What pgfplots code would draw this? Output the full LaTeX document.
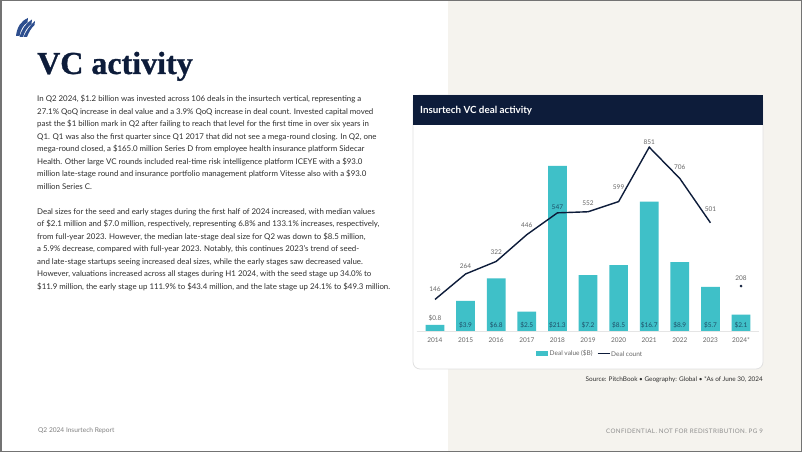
\documentclass[border=0pt]{standalone}
\usepackage{fontspec}
\setmainfont{Lato}
\newfontfamily\titlefont[FakeBold=1]{Liberation Serif}
\usepackage{pgfplots}
\pgfplotsset{compat=1.18}
\pgfkeys{/pgf/number format/assume math mode=true}
\definecolor{navy}{HTML}{0D1C3A}
\definecolor{barteal}{HTML}{3FC0C8}
\definecolor{beige}{HTML}{F5F3EE}
\definecolor{bodygray}{HTML}{2E2E2E}
\definecolor{lblgray}{HTML}{666666}
\definecolor{barlbl}{HTML}{1E4D66}
\definecolor{logoblue}{HTML}{2D4E8E}
\newcommand{\bodyfont}{\fontsize{7.88}{9}\selectfont}
\newcommand{\smallfont}{\fontsize{6.5}{7}\selectfont}
\begin{document}
\begin{tikzpicture}[x=1pt,y=1pt]
\path[use as bounding box] (0,0) rectangle (802,452);
\begin{scope}[y=-1pt, yshift=452pt]
\fill[white] (0,0) rectangle (802,452);
\fill[beige] (448,0) rectangle (802,452);
% logo
\fill[logoblue] (16,36) .. controls (17,27) and (21,21) .. (28,18) -- (27.5,22.5) .. controls (23,25) and (20.5,30) .. (19.5,36) -- cycle;
\fill[logoblue] (19.5,37) .. controls (22,29) and (26,23) .. (32,19.5) -- (31.5,24) .. controls (27,27) and (24.5,32) .. (23,37) -- cycle;
\fill[logoblue] (23.5,37) .. controls (26,31) and (30,25) .. (35,21) -- (34.5,25) .. controls (31,28) and (28.5,33) .. (27,37) -- cycle;
% title
\node[anchor=base west, inner sep=0, text=navy, font=\titlefont\bfseries\fontsize{32}{34}\selectfont] at (37,74) {VC activity};
% body text
\foreach \t [count=\i from 0] in {
{In Q2 2024, \$1.2 billion was invested across 106 deals in the insurtech vertical, representing a},
{27.1\% QoQ increase in deal value and a 3.9\% QoQ increase in deal count. Invested capital moved},
{past the \$1 billion mark in Q2 after failing to reach that level for the first time in over six years in},
{Q1. Q1 was also the first quarter since Q1 2017 that did not see a mega-round closing. In Q2, one},
{mega-round closed, a \$165.0 million Series D from employee health insurance platform Sidecar},
{Health. Other large VC rounds included real-time risk intelligence platform ICEYE with a \$93.0},
{million late-stage round and insurance portfolio management platform Vitesse also with a \$93.0},
{million Series C.}}
{\node[anchor=base west, inner sep=0, text=bodygray, font=\bodyfont] at (37,{102+12.5*\i}) {\t};}
\foreach \t [count=\i from 0] in {
{Deal sizes for the seed and early stages during the first half of 2024 increased, with median values},
{of \$2.1 million and \$7.0 million, respectively, representing 6.8\% and 133.1\% increases, respectively,},
{from full-year 2023. However, the median late-stage deal size for Q2 was down to \$8.5 million,},
{a 5.9\% decrease, compared with full-year 2023. Notably, this continues 2023's trend of seed-},
{and late-stage startups seeing increased deal sizes, while the early stages saw decreased value.},
{However, valuations increased across all stages during H1 2024, with the seed stage up 34.0\% to},
{\$11.9 million, the early stage up 111.9\% to \$43.4 million, and the late stage up 24.1\% to \$49.3 million.}}
{\node[anchor=base west, inner sep=0, text=bodygray, font=\bodyfont] at (37,{214.5+12.5*\i}) {\t};}
% card
\filldraw[fill=white, draw=black!12, line width=0.8pt, rounded corners=7pt] (413,95) rectangle (763,369);
\fill[navy] (413,95) rectangle (763,125);
\node[anchor=west, inner sep=0, text=white, font=\bfseries\fontsize{9.8}{11}\selectfont] at (420,110.5) {Insurtech VC deal activity};
% legend
\fill[barteal] (536,351.2) rectangle (548,356.2);
\node[anchor=west, inner sep=0, text=lblgray, font=\smallfont] at (549.5,353.7) {Deal value (\$B)};
\draw[navy, line width=1.3pt] (597.5,353.7) -- (610,353.7);
\node[anchor=west, inner sep=0, text=lblgray, font=\smallfont] at (611,353.7) {Deal count};
% footers
\node[anchor=east, inner sep=0, text=bodygray, font=\fontsize{6.4}{7}\selectfont] at (763,380) {Source: PitchBook \textbullet\ Geography: Global \textbullet\ *As of June 30, 2024};
\node[anchor=east, inner sep=0, text=black!45, font=\fontsize{6.2}{7}\selectfont\addfontfeature{LetterSpace=6}] at (763,431) {CONFIDENTIAL. NOT FOR REDISTRIBUTION. PG 9};
\node[anchor=west, inner sep=0, text=black!50, font=\fontsize{6.6}{7}\selectfont] at (38,431) {Q2 2024 Insurtech Report};
\end{scope}
\draw[black!55, line width=1.5pt] (0.75,0.75) rectangle (801.25,451.25);
% bar axis
\begin{axis}[at={(416.6pt,121pt)}, anchor=south west, scale only axis,
  width=342.8pt, height=191pt, xmin=-0.6, xmax=10.6, ymin=0, ymax=24.645,
  axis x line=bottom, axis y line=none, x axis line style={draw=black!10, -},
  xtick={0,...,10}, xticklabels={2014,2015,2016,2017,2018,2019,2020,2021,2022,2023,2024*},
  major tick length=0, xticklabel style={font=\smallfont, text=lblgray, yshift=-3pt},
  clip=false]
\addplot[ybar, bar width=18.7pt, fill=barteal, draw=none] coordinates
 {(0,0.8)(1,3.9)(2,6.8)(3,2.5)(4,21.3)(5,7.2)(6,8.5)(7,16.7)(8,8.9)(9,5.7)(10,2.1)};
\end{axis}
% count axis
\begin{axis}[at={(416.6pt,121pt)}, anchor=south west, scale only axis,
  width=342.8pt, height=191pt, xmin=-0.6, xmax=10.6, ymin=0, ymax=884.26,
  hide axis, clip=false]
\addplot[navy, line width=1.4pt, mark=none] coordinates
 {(0,146)(1,264)(2,322)(3,446)(4,547)(5,552)(6,599)(7,851)(8,706)(9,501)};
\addplot[only marks, mark=*, mark size=1.1pt, navy] coordinates {(10,208)};
% count labels
\addplot[draw=none, mark=none, point meta=explicit,
  nodes near coords={\pgfmathprintnumber{\pgfplotspointmeta}},
  every node near coord/.style={anchor=center, inner sep=0, font=\smallfont, text=lblgray}]
  table[x=x, y=ly, meta=v] {
x ly v
0 194 146
1 302 264
2 367 322
3 491 446
5 591 552
6 667 599
7 876 851
8 759 706
9 563 501
10 245 208
};
\addplot[draw=none, mark=none, point meta=explicit,
  nodes near coords={\pgfmathprintnumber{\pgfplotspointmeta}},
  every node near coord/.style={anchor=center, inner sep=0, font=\smallfont, text=barlbl}]
  table[x=x, y=ly, meta=v] {
x ly v
4 575 547
};
% value labels inside bars
\addplot[draw=none, mark=none, point meta=explicit,
  nodes near coords={\$\pgfmathprintnumber[fixed, precision=1, fixed zerofill]{\pgfplotspointmeta}},
  every node near coord/.style={anchor=center, inner sep=0, font=\smallfont, text=barlbl}]
  table[x=x, y=ly, meta=v] {
x ly v
1 24.5 3.9
2 24.5 6.8
3 24.5 2.5
4 24.5 21.3
5 24.5 7.2
6 24.5 8.5
7 24.5 16.7
8 24.5 8.9
9 24.5 5.7
10 24.5 2.1
};
\addplot[draw=none, mark=none, point meta=explicit,
  nodes near coords={\$\pgfmathprintnumber[fixed, precision=1, fixed zerofill]{\pgfplotspointmeta}},
  every node near coord/.style={anchor=center, inner sep=0, font=\smallfont, text=lblgray}]
  table[x=x, y=ly, meta=v] {
x ly v
0 58.8 0.8
};
\end{axis}
\end{tikzpicture}
\end{document}
